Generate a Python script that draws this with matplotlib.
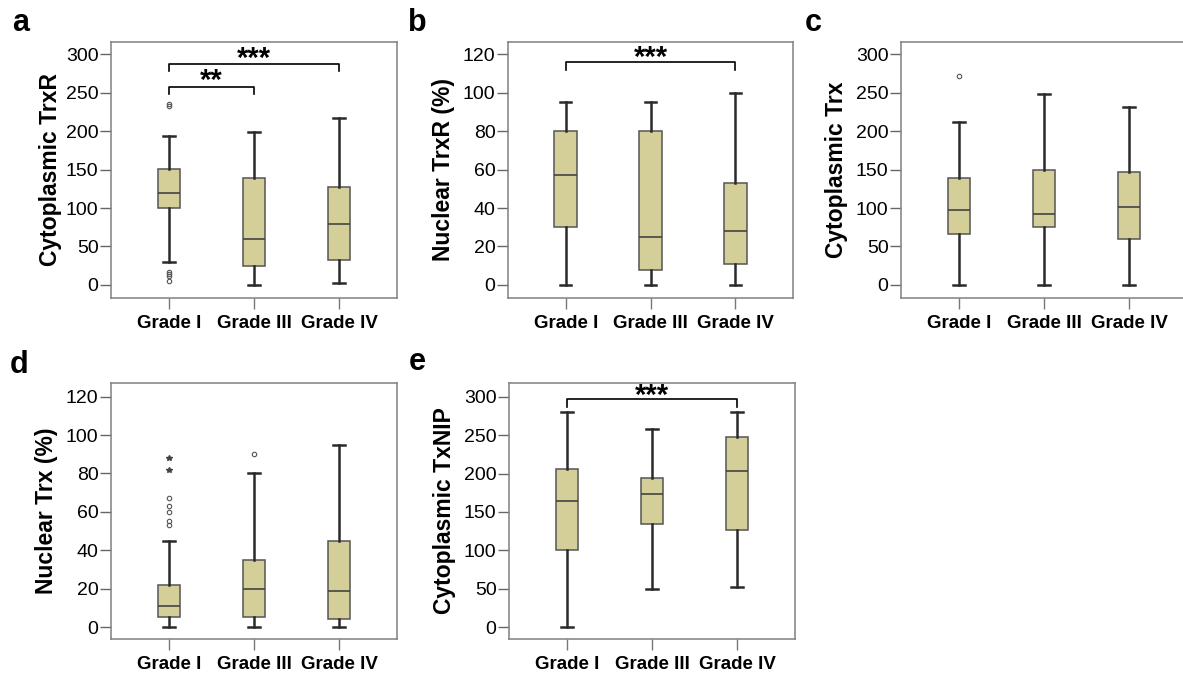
import matplotlib
matplotlib.use('Agg')
import matplotlib.pyplot as plt

plt.rcParams['font.family'] = ['Liberation Sans', 'DejaVu Sans']

grades = ['Grade I', 'Grade III', 'Grade IV']

# box statistics: (whislo, q1, med, q3, whishi)
cyto_trxr = [(30, 100, 120, 151, 194), (0, 25, 60, 139, 199), (3, 33, 79, 128, 217)]
cyto_trxr_fliers = [[5, 11, 14, 17, 233, 236], [], []]

nuc_trxr = [(0, 30, 57, 80, 95), (0, 8, 25, 80, 95), (0, 11, 28, 53, 100)]
nuc_trxr_fliers = [[], [], []]

cyto_trx = [(0, 66, 97, 139, 212), (0, 75, 92, 149, 249), (0, 60, 101, 147, 232)]
cyto_trx_fliers = [[272], [], []]

nuc_trx = [(0, 5, 11, 22, 45), (0, 5, 20, 35, 80), (0, 4, 19, 45, 95)]
nuc_trx_fliers = [[53, 55, 60, 63, 67], [90], []]
nuc_trx_extremes = [[82, 88], [], []]

cyto_txnip = [(0, 100, 164, 206, 280), (50, 134, 173, 194, 258), (52, 126, 203, 248, 280)]
cyto_txnip_fliers = [[], [], []]

W, H = 1183, 677
fig = plt.figure(figsize=(W / 100, H / 100), dpi=100)


def make_ax(left, top, width, height=256):
    return fig.add_axes([left / W, 1 - (top + height) / H, width / W, height / H])


def draw(ax, stats, fliers, ylim, yticks, ylabel, labx):
    bx = []
    for (lo, q1, med, q3, hi), fl in zip(stats, fliers):
        bx.append(dict(whislo=lo, q1=q1, med=med, q3=q3, whishi=hi, fliers=fl))
    ax.bxp(bx, positions=[1, 2, 3], widths=0.27, capwidths=0.13, patch_artist=True,
           boxprops=dict(facecolor='#d4cf99', edgecolor='#555555', linewidth=1.1),
           medianprops=dict(color='#444444', linewidth=1.2),
           whiskerprops=dict(color='#2a2a2a', linewidth=1.8),
           capprops=dict(color='#2a2a2a', linewidth=1.8),
           flierprops=dict(marker='o', markersize=3.2, markerfacecolor='none',
                           markeredgecolor='#555555', markeredgewidth=0.8))
    ax.set_xlim(0.318, 3.682)
    ax.set_ylim(*ylim)
    ax.set_yticks(yticks)
    ax.set_xticks([1, 2, 3])
    ax.set_xticklabels(grades, fontsize=13.5, fontweight='bold')
    ax.tick_params(axis='y', labelsize=14, length=8, width=1, color='#666666', pad=1)
    ax.tick_params(axis='x', length=8, width=1, color='#777777', pad=4)
    for s in ax.spines.values():
        s.set_color('#808080')
        s.set_linewidth(1.1)
    ax.set_ylabel(ylabel, fontsize=16.5, fontweight='bold', va='center')
    ax.yaxis.set_label_coords(labx, 0.5)


def bracket(ax, x1, x2, y, drop, stars, ty):
    ax.plot([x1, x1, x2, x2], [y - drop, y, y, y - drop], color='black', linewidth=1.2,
            solid_joinstyle='round', clip_on=False)
    ax.text((x1 + x2) / 2, ty, stars, ha='center', va='baseline', fontsize=21,
            fontweight='bold')


ticks300 = [0, 50, 100, 150, 200, 250, 300]
ticks120 = [0, 20, 40, 60, 80, 100, 120]

ax_a = make_ax(111, 42, 286)
draw(ax_a, cyto_trxr, cyto_trxr_fliers, (-17, 316), ticks300, 'Cytoplasmic TrxR', -0.213)
bracket(ax_a, 1, 3, 288, 10, '***', 283)
bracket(ax_a, 1, 2, 258, 10, '**', 255)

ax_b = make_ax(508, 42, 285)
draw(ax_b, nuc_trxr, nuc_trxr_fliers, (-6.8, 126.4), ticks120, 'Nuclear TrxR (%)', -0.228)
bracket(ax_b, 1, 3, 116, 4, '***', 114)

ax_c = make_ax(901, 42, 286)
draw(ax_c, cyto_trx, cyto_trx_fliers, (-17, 316), ticks300, 'Cytoplasmic Trx', -0.224)

ax_d = make_ax(111, 383, 286)
draw(ax_d, nuc_trx, nuc_trx_fliers, (-6.25, 127.1), ticks120, 'Nuclear Trx (%)', -0.224)
for i, ext in enumerate(nuc_trx_extremes):
    if ext:
        ax_d.plot([i + 1] * len(ext), ext, linestyle='none', marker='*', markersize=4,
                  color='#444444')

ax_e = make_ax(509, 383, 286)
draw(ax_e, cyto_txnip, cyto_txnip_fliers, (-15.6, 317.9), ticks300, 'Cytoplasmic TxNIP', -0.227)
bracket(ax_e, 1, 3, 297, 10, '***', 290)

for lab, x, y in [('a', 12, 31), ('b', 408, 31), ('c', 805, 31), ('d', 10, 373), ('e', 409, 370)]:
    fig.text(x / W, 1 - y / H, lab, fontsize=22, fontweight='bold', ha='left', va='baseline')

fig.savefig('out.png', dpi=100)
